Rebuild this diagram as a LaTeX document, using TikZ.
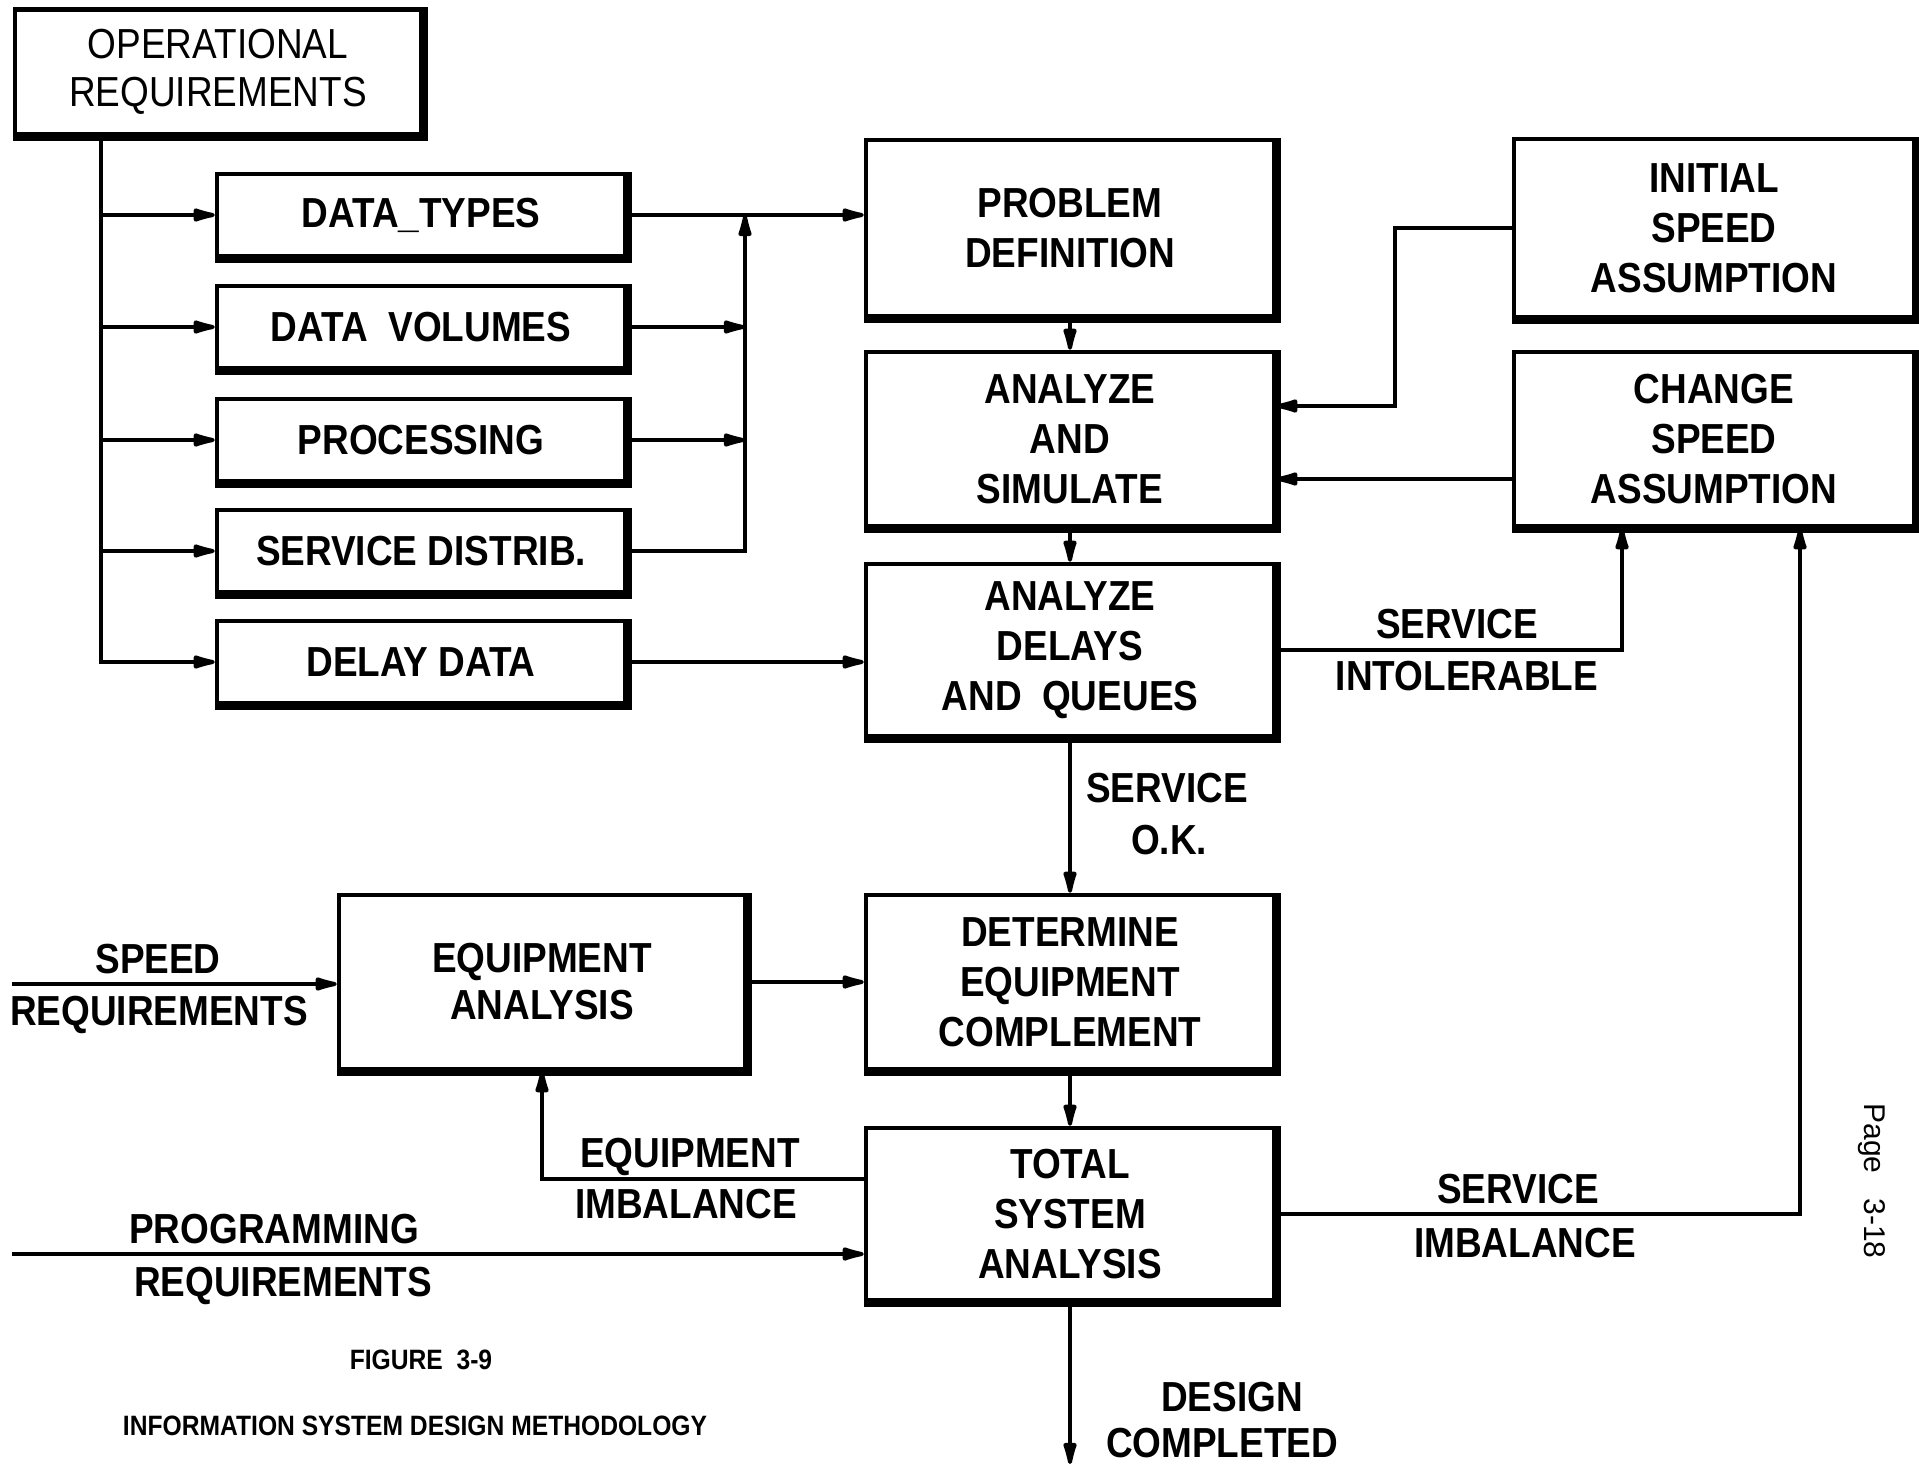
\documentclass[tikz,border=0pt]{standalone}
\usepackage{fontspec}
\setmainfont{Liberation Sans}[FakeStretch=0.88]
\newfontfamily\pagefont{Liberation Sans}
\usetikzlibrary{arrows.meta}
\newcommand{\bigtxt}{\fontsize{42pt}{50pt}\selectfont}
\begin{document}
\begin{tikzpicture}[x=1pt, y=-1pt, line join=miter,
  box/.style={draw, line width=4.5pt, inner sep=0pt, align=center,
    font=\bigtxt\bfseries, minimum width=408pt, minimum height=174pt},
  small/.style={box, minimum height=82pt},
  lbl/.style={inner sep=0pt, align=center, font=\bigtxt\bfseries, text depth=0pt},
  conn/.style={line width=4pt},
  arr/.style={conn, -{Latex[length=32pt,width=15pt,round]}},
  edgeshade/.style={line width=9pt}]
\fill[white] (0,0) rectangle (1919,1464);
\useasboundingbox (0,0) rectangle (1919,1464);

% input boxes
\node[box, minimum width=406pt, minimum height=125pt,
  font=\fontsize{42pt}{48pt}\selectfont\mdseries] (opreq) at (218,72) {OPERATIONAL\\REQUIREMENTS};
\node[small] (dtypes) at (421,215) {DATA\_TYPES};
\node[small] (dvol) at (421,327) {DATA\ \ VOLUMES};
\node[small] (proc) at (421,440) {PROCESSING};
\node[small] (sdist) at (421,551) {SERVICE DISTRIB.};
\node[small] (ddata) at (421,662) {DELAY DATA};

% main column
\node[box, minimum height=176pt] (probdef) at (1070,228) {PROBLEM\\DEFINITION};
\node[box] (anasim) at (1070,439) {ANALYZE\\AND\\SIMULATE};
\node[box, minimum height=172pt] (anadel) at (1070,650) {ANALYZE\\DELAYS\\AND\ \ QUEUES};
\node[box] (detequip) at (1070,982) {DETERMINE\\EQUIPMENT\\COMPLEMENT};
\node[box, minimum height=172pt] (total) at (1070,1214) {TOTAL\\SYSTEM\\ANALYSIS};

% speed assumptions
\node[box, minimum width=400pt, minimum height=178pt] (initsp) at (1714,228) {INITIAL\\SPEED\\ASSUMPTION};
\node[box, minimum width=400pt] (chgsp) at (1714,439) {CHANGE\\SPEED\\ASSUMPTION};

% equipment
\node[box, minimum width=406pt,
  font=\fontsize{42pt}{47pt}\selectfont\bfseries] (equipan) at (542,982) {EQUIPMENT\\ANALYSIS};

% heavy bottom and right edges
\foreach \n in {opreq,dtypes,dvol,proc,sdist,ddata,probdef,anasim,anadel,
                detequip,total,initsp,chgsp,equipan}
  \draw[edgeshade] (\n.south west) -- (\n.south east) -- (\n.north east);

% distribution from operational requirements
\coordinate (tx) at (101,0);
\coordinate (cx) at (745,0);
\draw[arr] (opreq.south -| tx) |- (ddata.west);
\foreach \n in {dtypes,dvol,proc,sdist}
  \draw[arr] (\n.west -| tx) -- (\n.west);

% collection into problem definition
\draw[arr] (sdist.east) -| (dtypes.east -| cx);
\draw[arr] (dvol.east) -- (dvol.east -| cx);
\draw[arr] (proc.east) -- (proc.east -| cx);
\draw[arr] (dtypes.east) -- (dtypes.east -| probdef.west);
\draw[arr] (ddata.east) -- (ddata.east -| anadel.west);

% main flow
\draw[arr] (probdef.south) -- (anasim.north);
\draw[arr] (anasim.south) -- (anadel.north);
\draw[arr] (anadel.south) -- (detequip.north);
\draw[arr] (detequip.south) -- (total.north);
\coordinate (done) at (1070,1464);
\draw[arr] (total.south) -- (done);

% speed assumption loops
\coordinate (ix) at (1395,406);
\draw[arr] (initsp.west) -| (ix) -- (ix -| anasim.east);
\draw[arr] ([yshift=-40pt]chgsp.west) -- ([yshift=-40pt]anasim.east);
\coordinate (sx) at (1622,0);
\draw[arr] (anadel.east) -| (sx |- chgsp.south);
\coordinate (bx) at (1800,0);
\draw[arr] (total.east) -| (bx |- chgsp.south);

% equipment loop and outside inputs
\draw[arr] (equipan.east) -- (equipan.east -| detequip.west);
\draw[arr] ([yshift=35pt]total.west) -| (equipan.south);
\coordinate (spd) at (12,984);
\draw[arr] (spd) -- (spd -| equipan.west);
\coordinate (prg) at (12,1254);
\draw[arr] (prg) -- (prg -| total.west);

% connector labels
\node[lbl] (l1a) at (1167,788) {SERVICE};
\node[lbl] (l1b) at (1169,840) {O.K.};
\node[lbl] (l2a) at (1457,624) {SERVICE};
\node[lbl] (l2b) at (1467,676) {INTOLERABLE};
\node[lbl] (l3a) at (158,959) {SPEED};
\node[lbl] (l3b) at (159,1011) {REQUIREMENTS};
\node[lbl] (l4a) at (690,1153) {EQUIPMENT};
\node[lbl] (l4b) at (686,1204) {IMBALANCE};
\node[lbl] (l5a) at (274,1229) {PROGRAMMING};
\node[lbl] (l5b) at (283,1282) {REQUIREMENTS};
\node[lbl] (l6a) at (1518,1189) {SERVICE};
\node[lbl] (l6b) at (1525,1243) {IMBALANCE};
\node[lbl] (l7a) at (1232,1397) {DESIGN};
\node[lbl] (l7b) at (1222,1443) {COMPLETED};

% caption and page number
\node[lbl, font=\fontsize{28pt}{28pt}\selectfont\bfseries] (fig) at (421,1360) {FIGURE\ \ 3-9};
\node[lbl, font=\fontsize{28pt}{28pt}\selectfont\bfseries] (title) at (415,1426) {INFORMATION SYSTEM DESIGN METHODOLOGY};
\node[inner sep=0pt, rotate=-90, font=\pagefont\fontsize{30pt}{30pt}\selectfont] (pg) at (1872,1181) {Page\ \ \ 3-18};
\end{tikzpicture}
\end{document}
